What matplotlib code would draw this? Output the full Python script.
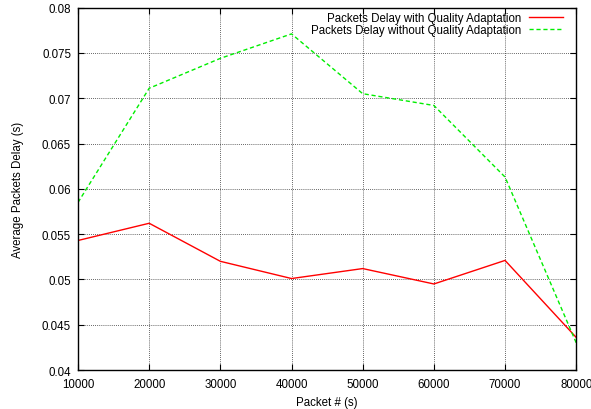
import matplotlib
matplotlib.use("Agg")
import matplotlib.pyplot as plt

packets = [10000, 20000, 30000, 40000, 50000, 60000, 70000, 80000]
delay_with_qa = [0.0543, 0.0562, 0.0520, 0.0501, 0.0512, 0.0495, 0.0521, 0.0436]
delay_without_qa = [0.0585, 0.0711, 0.0744, 0.0771, 0.0705, 0.0692, 0.0613, 0.0430]

plt.rcParams["font.family"] = ["Liberation Sans", "DejaVu Sans"]
plt.rcParams["font.size"] = 8.3

fig = plt.figure(figsize=(5.91, 4.10), dpi=100)
ax = fig.add_axes([0.132, 0.095, 0.843, 0.884])

ax.plot(packets, delay_with_qa, color="#ff0000", lw=1.0,
        label="Packets Delay with Quality Adaptation")
ax.plot(packets, delay_without_qa, color="#00ee00", lw=1.0, ls=(0, (3, 2)),
        label="Packets Delay without Quality Adaptation")

ax.set_xlim(10000, 80000)
ax.set_ylim(0.04, 0.08)
ax.set_xticks(range(10000, 80001, 10000))
ax.set_yticks([0.04, 0.045, 0.05, 0.055, 0.06, 0.065, 0.07, 0.075, 0.08])
ax.set_yticklabels(["0.04", "0.045", "0.05", "0.055", "0.06", "0.065", "0.07", "0.075", "0.08"])

ax.grid(True, color="#333333", ls=(0, (1, 1.5)), lw=0.6)
ax.tick_params(direction="in", length=4, top=True, right=True, colors="black")
ax.tick_params(axis="x", pad=6)
ax.tick_params(axis="y", pad=5)
for s in ax.spines.values():
    s.set_linewidth(1.0)

ax.set_xlabel("Packet # (s)", labelpad=4)
ax.set_ylabel("Average Packets Delay (s)", labelpad=13)

ax.legend(loc="upper right", bbox_to_anchor=(0.982, 1.0), frameon=False,
          markerfirst=False, handlelength=2.9, labelspacing=0.0,
          borderaxespad=0.0, handletextpad=0.7, fontsize=8.3)

fig.savefig("out.png", dpi=100)
